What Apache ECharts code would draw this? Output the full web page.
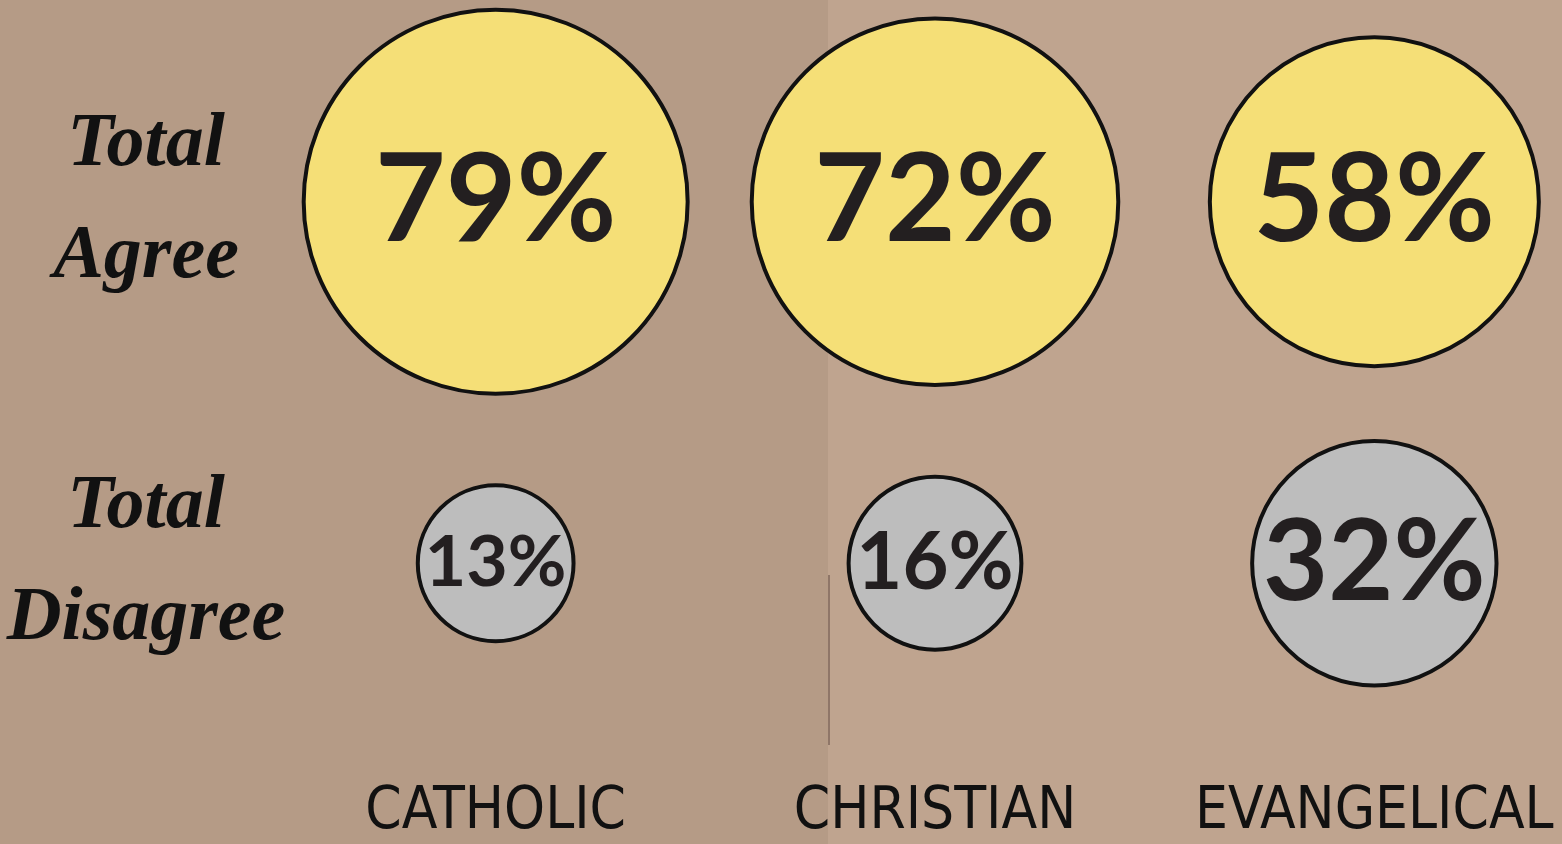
<!DOCTYPE html>
<html>
<head>
<meta charset="utf-8">
<title>Total Agree / Total Disagree</title>
<script src="https://cdn.jsdelivr.net/npm/echarts@6/dist/echarts.min.js"></script>
<style>
  html, body { margin: 0; padding: 0; }
  #main { width: 1562px; height: 844px; }
</style>
</head>
<body>
<div id="main"></div>
<script>
// 数据
const categories = ['CATHOLIC', 'CHRISTIAN', 'EVANGELICAL'];
const rows = ['Total Disagree', 'Total Agree'];
const agreeValues = [79, 72, 58];
const disagreeValues = [13, 16, 32];

// 圆面积和百分比成正比
const sizeOf = v => 43.2 * Math.sqrt(v);
const toPoints = (values, row) => values.map((v, i) => ({
    value: [categories[i], row, v],
    label: { fontSize: Math.min(122, sizeOf(v) / 2 * 0.92) }
}));

const chartDom = document.getElementById('main');
const myChart = echarts.init(chartDom);

const option = {
    backgroundColor: '#b59b86',
    animation: false,
    graphic: [
        // 右半边纸张颜色稍浅
        { type: 'rect', z: -10, shape: { x: 828, y: 0, width: 734, height: 844 }, style: { fill: '#bfa48f' } },
        { type: 'line', z: -9, shape: { x1: 829, y1: 575, x2: 829, y2: 745 }, style: { stroke: '#8f7668', lineWidth: 2 } }
    ],
    grid: { left: 276, width: 1318, top: 21, bottom: 100, outerBoundsMode: 'none' },
    xAxis: {
        type: 'category',
        data: categories,
        axisLine: { show: false },
        axisTick: { show: false },
        splitLine: { show: false },
        axisLabel: {
            interval: 0,
            hideOverlap: false,
            margin: 40,
            color: '#111',
            fontSize: 58,
            fontFamily: '"Liberation Sans Narrow", "DejaVu Sans Condensed", sans-serif'
        }
    },
    yAxis: {
        type: 'category',
        data: rows,
        axisLine: { show: false },
        axisTick: { show: false },
        splitLine: { show: false },
        axisLabel: {
            margin: 130,
            align: 'center',
            color: '#111',
            fontSize: 76,
            fontWeight: 'bold',
            fontStyle: 'italic',
            lineHeight: 112,
            padding: [0, 0, 50, 0],
            fontFamily: '"Liberation Serif", serif',
            formatter: s => s.replace(' ', '\n')
        }
    },
    series: [
        {
            name: 'Total Agree',
            type: 'scatter',
            data: toPoints(agreeValues, 'Total Agree'),
            symbolSize: d => sizeOf(d[2]),
            itemStyle: { color: '#f5df77', borderColor: '#111', borderWidth: 4, opacity: 1 },
            label: {
                show: true,
                position: 'inside',
                color: '#231f20',
                fontWeight: 'bold',
                fontFamily: 'Lato, "Open Sans", sans-serif',
                formatter: p => p.value[2] + '%'
            }
        },
        {
            name: 'Total Disagree',
            type: 'scatter',
            data: toPoints(disagreeValues, 'Total Disagree'),
            symbolSize: d => sizeOf(d[2]),
            itemStyle: { color: '#bdbdbd', borderColor: '#111', borderWidth: 4, opacity: 1 },
            label: {
                show: true,
                position: 'inside',
                color: '#231f20',
                fontWeight: 'bold',
                fontFamily: 'Lato, "Open Sans", sans-serif',
                formatter: p => p.value[2] + '%'
            }
        }
    ]
};

myChart.setOption(option);
</script>
</body>
</html>
